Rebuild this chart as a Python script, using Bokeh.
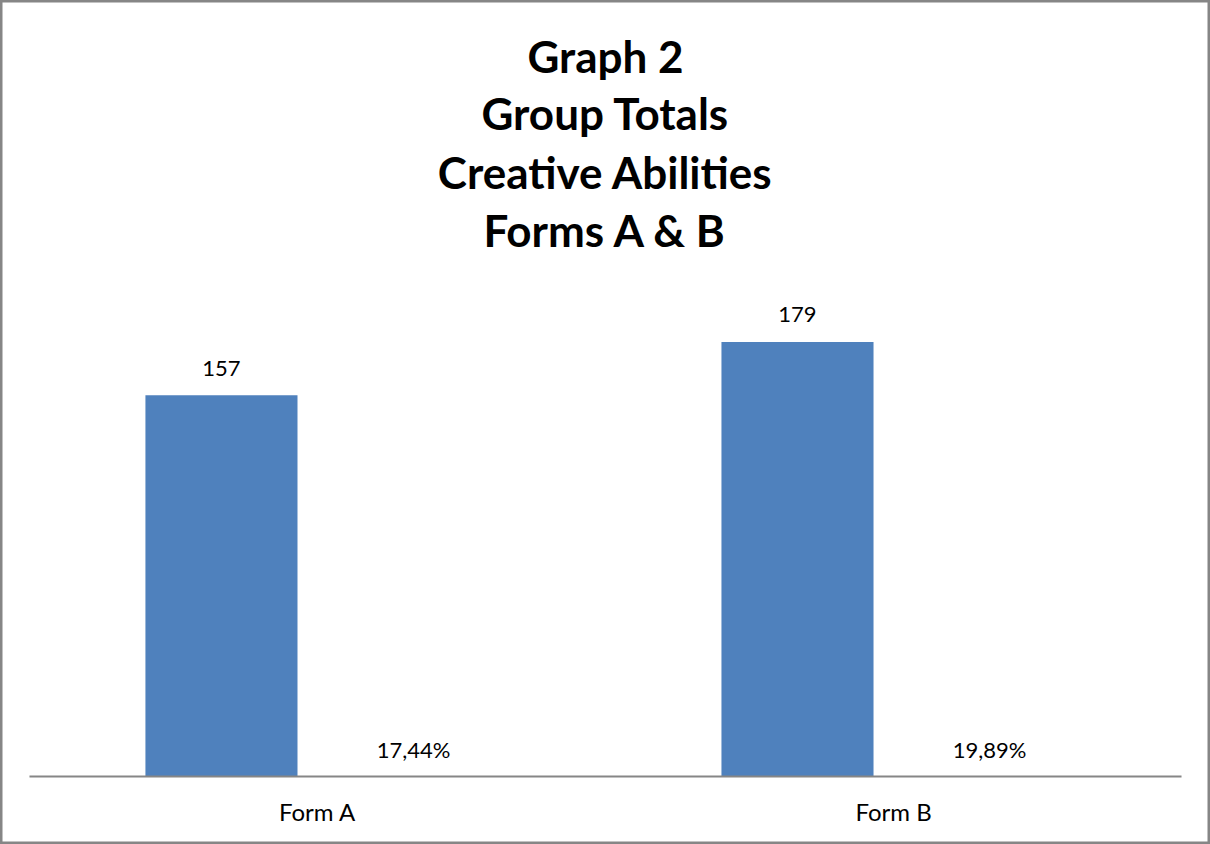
from bokeh.plotting import figure
from bokeh.models import ColumnDataSource, Range1d, FactorRange, LabelSet, Label
from bokeh.core.properties import value
from bokeh.transform import dodge
from bokeh.embed import file_html
from bokeh.resources import INLINE

# ---- data ----
categories = ["Form A", "Form B"]
totals = [157, 179]
percents = [17.44, 19.89]
total_labels = ["157", "179"]
percent_labels = ["17,44%", "19,89%"]
title_lines = ["Graph 2", "Group Totals", "Creative Abilities", "Forms A & B"]

FONT = "Lato"
BLUE = "#4F81BD"
RED = "#C0504D"
GRAY = "#868686"

src = ColumnDataSource(dict(
    cat=categories,
    total=totals,
    pct=[v / 100.0 for v in percents],
    zero=[0] * len(categories),
    tlab=total_labels,
    plab=percent_labels,
))

p = figure(
    width=1210, height=844,
    x_range=FactorRange(*categories, range_padding=0.0503, range_padding_units="percent"),
    y_range=Range1d(-28.0, 319.6),
    output_backend="svg", toolbar_location=None,
    min_border=0,
)
p.xaxis.visible = False
p.yaxis.visible = False
p.grid.visible = False
p.outline_line_color = GRAY
p.outline_line_width = 4

p.vbar(x=dodge("cat", -0.1667, range=p.x_range), top="total", width=0.264,
       source=src, fill_color=BLUE, line_color=None)
p.vbar(x=dodge("cat", 0.1667, range=p.x_range), top="pct", width=0.264,
       source=src, fill_color=RED, line_color=None)

# axis line along the category extent (drawn over the bars)
p.segment(x0=[0], y0=[0], x1=[len(categories)], y1=[0], line_color=GRAY, line_width=2)

lab_kw = dict(source=src, text_align="center", text_baseline="middle",
              text_font=value(FONT), text_color="#000000")
p.add_layout(LabelSet(x=dodge("cat", -0.1667, range=p.x_range), y="total", text="tlab",
                      y_offset=27, text_font_size="22px", **lab_kw))
p.add_layout(LabelSet(x=dodge("cat", 0.1667, range=p.x_range), y="pct", text="plab",
                      y_offset=27, text_font_size="22px", **lab_kw))
p.add_layout(LabelSet(x="cat", y="zero", text="cat",
                      y_offset=-35, text_font_size="24px", **lab_kw))

title_y = [296.9, 273.1, 248.8, 224.9]
for line, ty in zip(title_lines, title_y):
    p.add_layout(Label(x=len(categories) / 2, y=ty, text=line, text_align="center",
                       text_baseline="middle", text_font=FONT, text_font_size="44px",
                       text_font_style="bold", text_color="#000000"))

open("out.html", "w").write(file_html(p, INLINE))
